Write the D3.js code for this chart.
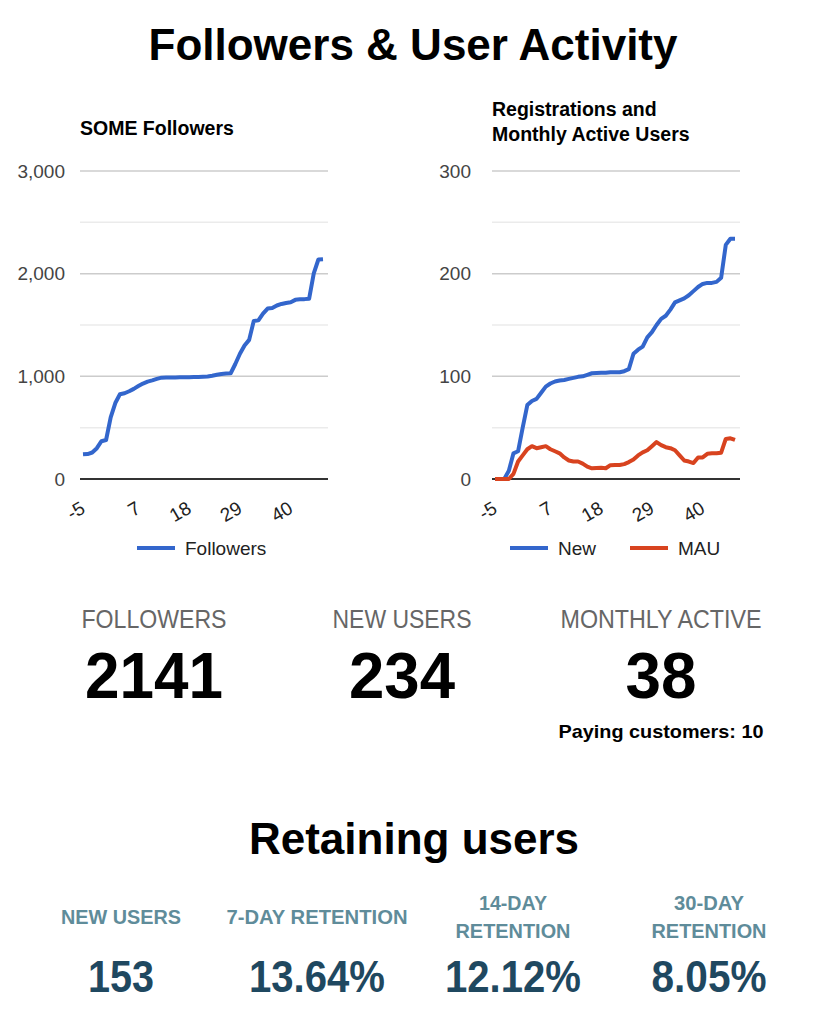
<!DOCTYPE html>
<html>
<head>
<meta charset="utf-8">
<script src="https://cdn.jsdelivr.net/npm/d3@7/dist/d3.min.js"></script>
<style>
body { margin: 0; background: #fff; }
text { font-family: "Liberation Sans", Arial, Helvetica, sans-serif; }
</style>
</head>
<body>
<div id="chart-container"></div>
<script>
// week index on the x axis
const weeks = [-5,-4,-3,-2,-1,0,1,2,3,4,5,6,7,8,9,10,11,12,13,14,15,16,17,18,19,20,21,22,23,24,25,26,27,28,29,30,31,32,33,34,35,36,37,38,39,40,41,42,43,44,45,46,47];
const followers = [240,243,258,300,368,380,600,740,825,835,855,878,905,930,948,960,975,987,988,988,989,990,991,992,993,994,996,998,1005,1015,1022,1027,1030,1120,1220,1300,1355,1540,1545,1610,1660,1665,1690,1705,1715,1722,1745,1750,1752,1756,2003,2138,2141];
const newUsers = [0,0,0,8,25,27,50,72,76,78,84,90,93,95,96,96.5,97.5,98.5,99.5,100,101.5,103,103.2,103.4,103.5,104,104,104,105,107,122,126,129,138,143,150,156,159,165,172,174,176,179,183,187,190,191,191,192,196,228,234,234];
const mau = [0,0,0,0,5,17,23,29,32,30,31,32,29,27,25,21,18,17,17,15,12,10.4,10.8,11,10.5,13.5,13.6,13.6,14.5,16.5,19,23,26,28,32,36,33,31,30,28,23,18,17,15.5,21,21,24.5,25,25,25.6,39,39.6,38];
const xTicks = [-5, 7, 18, 29, 40];

const statLabels = ["FOLLOWERS", "NEW USERS", "MONTHLY ACTIVE"];
const statValues = ["2141", "234", "38"];
const payingCustomers = 10;

const retentionLabels = [["NEW USERS"], ["7-DAY RETENTION"], ["14-DAY", "RETENTION"], ["30-DAY", "RETENTION"]];
const retentionValues = ["153", "13.64%", "12.12%", "8.05%"];

const blue = "#3366cc";
const red = "#d8431f";

const svg = d3.select("#chart-container")
    .append("svg")
    .attr("width", 828)
    .attr("height", 1018);

svg.append("text")
    .attr("x", 413).attr("y", 60)
    .attr("text-anchor", "middle")
    .style("font-size", "44px").style("font-weight", "bold")
    .text("Followers & User Activity");

const plotTop = 171, plotBottom = 479, plotW = 248;

function drawChart(left, yMax, series, titleLines, labelGap, legend) {
    const g = svg.append("g");
    const x = d3.scaleLinear().domain([-5, 47]).range([left + 3, left + 243]);
    const y = d3.scaleLinear().domain([0, yMax]).range([plotBottom, plotTop]);

    titleLines.forEach((t, i) => {
        g.append("text")
            .attr("x", left).attr("y", titleLines.length == 1 ? 135 : 116 + i * 25)
            .style("font-size", "19.5px").style("font-weight", "bold")
            .text(t);
    });

    // gridlines, every sixth of the range, darker on labelled ones
    const grid = d3.range(1, 7).map(i => i * yMax / 6);
    g.selectAll(".grid").data(grid).join("line")
        .attr("x1", left).attr("x2", left + plotW)
        .attr("y1", d => y(d)).attr("y2", d => y(d))
        .attr("stroke", (d, i) => i % 2 == 1 ? "#cccccc" : "#ebebeb")
        .attr("stroke-width", 1.5);

    const yAxis = g.append("g")
        .attr("transform", `translate(${left - labelGap},0)`)
        .call(d3.axisLeft(y).tickValues([0, yMax / 3, 2 * yMax / 3, yMax]).tickSize(0).tickFormat(d3.format(",")));
    yAxis.select(".domain").remove();
    yAxis.selectAll("text")
        .attr("x", 0)
        .style("font-family", "'Liberation Sans', Arial, sans-serif")
        .style("font-size", "19px").attr("fill", "#444");

    const xAxis = g.append("g")
        .attr("transform", `translate(0,${plotBottom})`)
        .call(d3.axisBottom(x).tickValues(xTicks).tickSize(0).tickFormat(d => String(d)));
    xAxis.select(".domain").remove();
    xAxis.selectAll("text")
        .style("font-family", "'Liberation Sans', Arial, sans-serif")
        .style("font-size", "19px").attr("fill", "#222")
        .attr("text-anchor", "end")
        .attr("y", 0).attr("dy", 0)
        .attr("transform", "translate(3,33) rotate(-30)");

    g.append("line")
        .attr("x1", left).attr("x2", left + plotW)
        .attr("y1", plotBottom).attr("y2", plotBottom)
        .attr("stroke", "#333").attr("stroke-width", 2);

    const line = d3.line()
        .x((d, i) => x(weeks[i]))
        .y(d => y(d));

    series.forEach(s => {
        g.append("path")
            .datum(s.values)
            .attr("fill", "none")
            .attr("stroke", s.color)
            .attr("stroke-width", 4)
            .attr("stroke-linejoin", "round")
            .attr("d", line);
    });

    legend.forEach((l, i) => {
        g.append("line")
            .attr("x1", l.x).attr("x2", l.x + 38)
            .attr("y1", 548).attr("y2", 548)
            .attr("stroke", series[i].color).attr("stroke-width", 4);
        g.append("text")
            .attr("x", l.x + 48).attr("y", 555)
            .style("font-size", "19px").attr("fill", "#222")
            .text(series[i].name);
    });
}

drawChart(80, 3000, [{name: "Followers", values: followers, color: blue}],
    ["SOME Followers"], 15, [{x: 137}]);
drawChart(492, 300, [{name: "New", values: newUsers, color: blue}, {name: "MAU", values: mau, color: red}],
    ["Registrations and", "Monthly Active Users"], 21, [{x: 510}, {x: 630}]);

// headline numbers
const statX = [154, 402, 661];
const statLabelW = [145, 139, 201];
const statValueW = [138, 106, 71];
statLabels.forEach((t, i) => {
    svg.append("text")
        .attr("x", statX[i]).attr("y", 628)
        .attr("text-anchor", "middle")
        .attr("textLength", statLabelW[i]).attr("lengthAdjust", "spacingAndGlyphs")
        .style("font-size", "26px").attr("fill", "#666")
        .text(t);
    svg.append("text")
        .attr("x", statX[i]).attr("y", 698)
        .attr("text-anchor", "middle")
        .attr("textLength", statValueW[i]).attr("lengthAdjust", "spacingAndGlyphs")
        .style("font-size", "65px").style("font-weight", "bold").attr("fill", "#000")
        .text(statValues[i]);
});
svg.append("text")
    .attr("x", 661).attr("y", 738)
    .attr("text-anchor", "middle")
    .attr("textLength", 205).attr("lengthAdjust", "spacingAndGlyphs")
    .style("font-size", "19px").style("font-weight", "bold")
    .text("Paying customers: " + payingCustomers);

svg.append("text")
    .attr("x", 414).attr("y", 854)
    .attr("text-anchor", "middle")
    .style("font-size", "44px").style("font-weight", "bold")
    .text("Retaining users");

const retX = [121, 317, 513, 709];
const retLabelW = [[120], [181], [68, 115], [70, 115]];
retentionLabels.forEach((lines, i) => {
    lines.forEach((t, j) => {
        const yy = lines.length == 1 ? 924 : 910 + j * 28;
        svg.append("text")
            .attr("x", retX[i]).attr("y", yy)
            .attr("text-anchor", "middle")
            .attr("textLength", retLabelW[i][j]).attr("lengthAdjust", "spacingAndGlyphs")
            .style("font-size", "20px").style("font-weight", "bold").attr("fill", "#5f8c9a")
            .text(t);
    });
    svg.append("text")
        .attr("x", retX[i]).attr("y", 992)
        .attr("text-anchor", "middle")
        .attr("textLength", [66, 136, 136, 115][i]).attr("lengthAdjust", "spacingAndGlyphs")
        .style("font-size", "44px").style("font-weight", "bold").attr("fill", "#1f4860")
        .text(retentionValues[i]);
});
</script>
</body>
</html>
